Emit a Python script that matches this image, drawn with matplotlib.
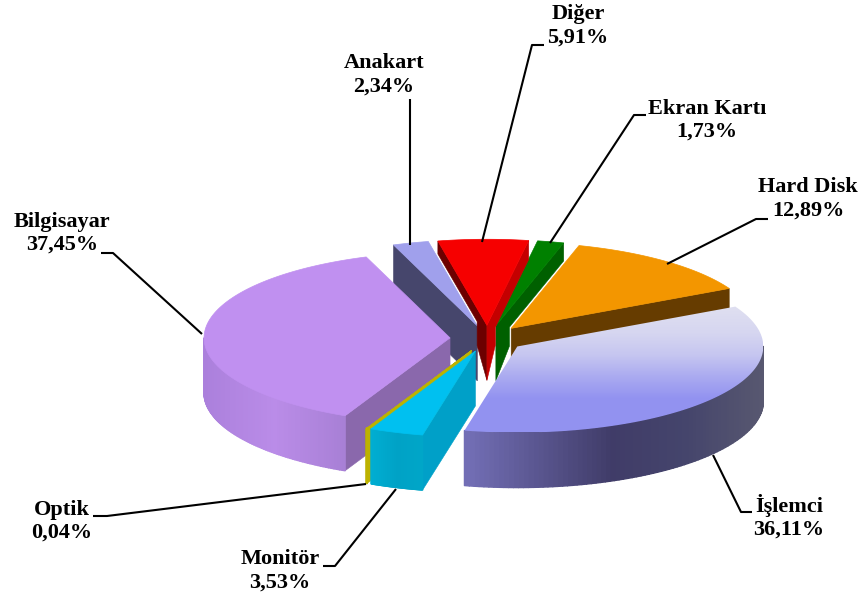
import numpy as np
import matplotlib.pyplot as plt
from matplotlib.collections import PolyCollection
from matplotlib.patches import Polygon

names = ['Hard Disk', 'İşlemci', 'Monitör', 'Optik', 'Bilgisayar', 'Anakart', 'Diğer', 'Ekran Kartı']
values = [12.89, 36.11, 3.53, 0.04, 37.45, 2.34, 5.91, 1.73]

# pie geometry, in pixels of the 862x598 figure
cx, cy = 487.5, 338.5
radius = 246
squash = 0.35
depth = 55
explode = 37.5
start = 16

top_colors = ['#f39600', None, '#00c0f0', '#bdb200', '#c090f0', '#a0a0ec', '#f60000', '#008000']
start_faces = ['#f39600', '#3f3f6c', '#00a0c8', '#bdb200', '#8a68ac', '#46466c', '#6c0000', '#008000']
end_faces = ['#663c00', '#3f3f6c', '#00a0c8', '#bdb200', '#8a68ac', '#46466c', '#c40000', '#006000']
wall_colors = {
    'İşlemci': ['#7470b8', '#5a5690', '#403c68', '#45456c', '#585870'],
    'Monitör': ['#00aed2', '#00a2c6', '#00a6c8'],
    'Optik': ['#bdb200', '#bdb200'],
    'Bilgisayar': ['#ab80dc', '#ba8ce8', '#a880d6'],
}
draw_order = [0, 5, 7, 6, 1, 4, 3, 2]
# back slices whose faces look thin at the rim in the picture: visible depth there
rim_depth = {'Diğer': (13, 19), 'Ekran Kartı': (18, 18)}

# label centre, then the leader line running from the label to the slice
label_pos = {
    'Hard Disk': (808, 199), 'İşlemci': (789, 517), 'Monitör': (280, 571),
    'Optik': (62, 521), 'Bilgisayar': (62, 233), 'Anakart': (384, 75),
    'Diğer': (578, 26), 'Ekran Kartı': (707, 120),
}
leaders = {
    'Hard Disk': [(768, 219), (756, 219), (667, 264)],
    'İşlemci': [(752, 512), (741, 512), (713, 455)],
    'Monitör': [(323, 566), (335, 566), (396, 489)],
    'Optik': [(93, 516), (107, 516), (366, 484)],
    'Bilgisayar': [(101, 253), (113, 253), (202, 334)],
    'Anakart': [(410, 99), (410, 245)],
    'Diğer': [(544, 45), (532, 45), (482, 242)],
    'Ekran Kartı': [(646, 115), (634, 115), (550, 243)],
}


def rim(x0, y0, t):
    t = np.radians(t)
    return np.column_stack([x0 + radius * np.sin(t), y0 - radius * squash * np.cos(t)])


def hex_rgb(c):
    return np.array([int(c[i:i + 2], 16) / 255 for i in (1, 3, 5)])


def face(apex, corner, thin=None):
    down = np.array([0, depth])
    if thin is None:
        return [apex, corner, corner + down, apex + down]
    # thin along the edge, then a narrow full-depth strip next to the apex
    elbow = apex + 0.2 * (corner - apex)
    return [apex, corner, corner + [0, thin], elbow + [0, thin], elbow + [0, depth - 18], apex + down]


fig = plt.figure(figsize=(8.62, 5.98), dpi=100)
ax = fig.add_axes([0, 0, 1, 1])

shares = np.array(values) / sum(values) * 360
ends = start + np.cumsum(shares)
begins = ends - shares

z = 1
for i in draw_order:
    name = names[i]
    t0, t1 = begins[i], ends[i]
    mid = np.radians((t0 + t1) / 2)
    x0 = cx + explode * np.sin(mid)
    y0 = cy - explode * squash * np.cos(mid)
    apex = np.array([x0, y0])
    arc = rim(x0, y0, np.linspace(t0, t1, 120))
    down = np.array([0, depth])
    thin = rim_depth.get(name, (None, None))
    z += 1

    # cut faces, only those turned towards the viewer
    if np.sin(np.radians(t0)) < 0:
        ax.add_patch(Polygon(face(apex, arc[0], thin[0]), fc=start_faces[i],
                             ec=start_faces[i], lw=0.4, zorder=z))
    if np.sin(np.radians(t1)) > 0:
        ax.add_patch(Polygon(face(apex, arc[-1], thin[1]), fc=end_faces[i],
                             ec=end_faces[i], lw=0.4, zorder=z))

    # outer wall, front part only
    if name in wall_colors:
        ts = np.linspace(max(t0, 90), min(t1, 270), 90)
        pts = rim(x0, y0, ts)
        quads = [[pts[j], pts[j + 1], pts[j + 1] + down, pts[j] + down] for j in range(len(pts) - 1)]
        stops = np.array([hex_rgb(c) for c in wall_colors[name]])
        xs = (pts[:-1, 0] - pts[:, 0].min()) / max(np.ptp(pts[:, 0]), 1)
        pos = np.linspace(0, 1, len(stops))
        cols = np.column_stack([np.interp(xs, pos, stops[:, k]) for k in range(3)])
        ax.add_collection(PolyCollection(quads, facecolors=cols, edgecolors=cols, linewidths=1.0, zorder=z))

    # top surface
    outline = np.vstack([apex, arc])
    if top_colors[i] is None:
        top = np.array([[[222, 222, 240]], [[214, 214, 240]], [[198, 198, 240]],
                        [[170, 170, 240]], [[146, 146, 240]], [[146, 146, 240]]], dtype=np.uint8)
        img = ax.imshow(top, extent=(outline[:, 0].min(), outline[:, 0].max(), 432, 300),
                        aspect='auto', interpolation='bilinear', zorder=z + 0.5)
        clip = Polygon(outline, transform=ax.transData, fc='none', ec='none')
        ax.add_patch(clip)
        img.set_clip_path(clip)
    else:
        ax.add_patch(Polygon(outline, fc=top_colors[i], ec=top_colors[i], lw=0.5, zorder=z + 0.5))

for name, val in zip(names, values):
    x, y = label_pos[name]
    ax.text(x, y, name + '\n' + f'{val:.2f}'.replace('.', ',') + '%', ha='center', va='center',
            family='Liberation Serif', weight='bold', fontsize=16, linespacing=1.2, zorder=50)
    pts = np.array(leaders[name])
    ax.plot(pts[:, 0], pts[:, 1], color='black', lw=1.5, zorder=40, solid_capstyle='butt')

ax.set_xlim(0, 862)
ax.set_ylim(598, 0)
ax.axis('off')
fig.savefig('out.png', dpi=100)
